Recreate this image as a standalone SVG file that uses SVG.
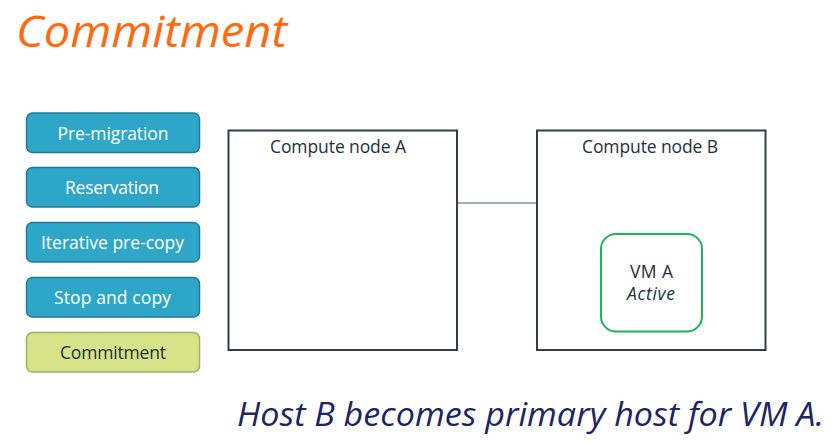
<svg xmlns="http://www.w3.org/2000/svg" width="840" height="441" viewBox="0 0 840 441">
<style>
.step{fill:#2ea6c8;stroke:#1f7c96;stroke-width:1.5}
.cur{fill:#d6e388;stroke:#a3ae6c;stroke-width:1.5}
.st{font-family:"Open Sans","Noto Sans",sans-serif;font-size:17.5px;text-anchor:middle;fill:#ffffff}
.node{fill:#ffffff;stroke:#2f3f48;stroke-width:2}
.nt{font-family:"Open Sans","Noto Sans",sans-serif;font-size:17.5px;text-anchor:middle;fill:#22313c}
</style>
<rect width="840" height="441" fill="#ffffff"/>
<text x="16" y="47" font-family="Open Sans, Noto Sans, sans-serif" font-style="italic" font-size="44" fill="#ff6a0e" textLength="271" lengthAdjust="spacingAndGlyphs">Commitment</text>
<g id="connectors">
<line x1="457" y1="203" x2="537" y2="203" stroke="#4a5860" stroke-width="1.2"/>
</g>
<g id="pre-migration"><rect class="step" x="26.5" y="113" width="173" height="39.5" rx="6"/><text class="st" x="113" y="139.5" textLength="111">Pre-migration</text></g>
<g id="reservation"><rect class="step" x="26.5" y="167.5" width="173" height="39.5" rx="6"/><text class="st" x="112" y="194" textLength="94">Reservation</text></g>
<g id="iterative"><rect class="step" x="26.5" y="222.5" width="173" height="39.5" rx="6"/><text class="st" x="112.5" y="249" textLength="143">Iterative pre-copy</text></g>
<g id="stop"><rect class="step" x="26.5" y="277.5" width="173" height="39.5" rx="6"/><text class="st" x="112.5" y="304" textLength="117">Stop and copy</text></g>
<g id="commitment"><rect class="cur" x="26.5" y="332.5" width="173" height="39.5" rx="6"/><text class="st" x="113" y="359" style="fill:#22313c" textLength="106">Commitment</text></g>
<g id="nodeA"><rect class="node" x="228.5" y="130.5" width="228.5" height="219.5"/><text class="nt" x="338" y="153" textLength="136">Compute node A</text></g>
<g id="nodeB"><rect class="node" x="537" y="130.5" width="228.5" height="219.5"/><text class="nt" x="650" y="153" textLength="136">Compute node B</text></g>
<g id="vmA"><rect x="601" y="234" width="101" height="97.5" rx="15" fill="#ffffff" stroke="#1fb35a" stroke-width="2"/><text class="nt" x="651.5" y="278" textLength="43">VM A</text><text class="nt" x="651" y="300" font-style="italic" textLength="48">Active</text></g>
<text x="237" y="426" font-family="Open Sans, Noto Sans, sans-serif" font-style="italic" font-size="33" fill="#202462" textLength="587" lengthAdjust="spacingAndGlyphs">Host B becomes primary host for VM A.</text>
</svg>
